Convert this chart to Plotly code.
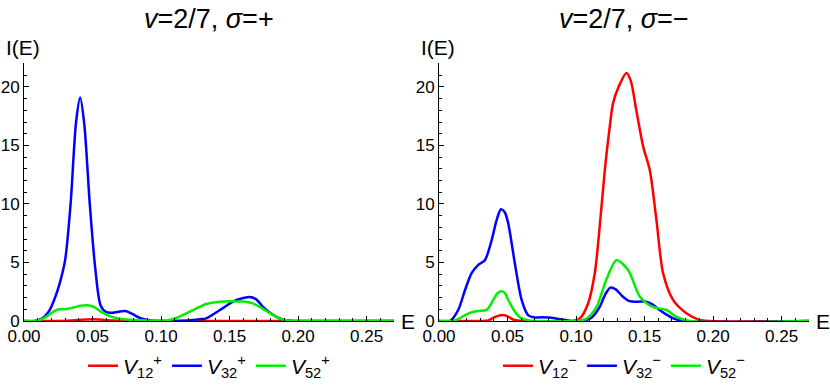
import plotly.graph_objects as go

# ---------------- data ----------------
# Left panel: nu = 2/7, sigma = +
E_red_p = [0, 0.025, 0.035, 0.045, 0.05, 0.055, 0.065, 0.075, 0.27]
I_red_p = [0, 0, 0.05, 0.12, 0.15, 0.12, 0.04, 0, 0]

E_blue_p = [0, 0.008, 0.013, 0.018, 0.022, 0.026, 0.030, 0.034, 0.038, 0.041, 0.044,
            0.048, 0.052, 0.056, 0.060, 0.064, 0.069, 0.074, 0.079, 0.085, 0.092, 0.10,
            0.11, 0.12, 0.128, 0.133, 0.143, 0.1525, 0.158, 0.1647, 0.1695, 0.1744, 0.179,
            0.184, 0.19, 0.195, 0.2, 0.27]
I_blue_p = [0, 0, 0.2, 0.8, 1.8, 3.2, 5.2, 10.0, 17.0, 19.1, 16.8,
            10.0, 4.5, 1.3, 0.75, 0.7, 0.8, 0.85, 0.6, 0.25, 0.05, 0,
            0, 0.05, 0.15, 0.23, 0.94, 1.65, 1.9, 2.05, 1.85, 1.2, 0.75,
            0.37, 0.08, 0.01, 0, 0]

E_green_p = [0, 0.008, 0.013, 0.018, 0.022, 0.026, 0.031, 0.036, 0.041, 0.046, 0.051,
             0.056, 0.063, 0.070, 0.078, 0.088, 0.098, 0.105, 0.112, 0.121, 0.128, 0.133,
             0.143, 0.150, 0.157, 0.162, 0.167, 0.172, 0.177, 0.182, 0.187, 0.192, 0.197, 0.27]
I_green_p = [0, 0, 0.15, 0.5, 0.85, 1.0, 1.02, 1.15, 1.3, 1.35, 1.2,
             0.8, 0.4, 0.2, 0.1, 0.05, 0.02, 0.05, 0.3, 0.8, 1.2, 1.45,
             1.65, 1.68, 1.66, 1.65, 1.5, 1.2, 0.85, 0.5, 0.2, 0.04, 0, 0]

# Right panel: nu = 2/7, sigma = -
E_red_m = [0, 0.03, 0.036, 0.041, 0.046, 0.050, 0.055, 0.062, 0.098, 0.103, 0.1088,
           0.1137, 0.1173, 0.121, 0.1246, 0.127, 0.131, 0.1368, 0.14, 0.144, 0.149,
           0.1538, 0.1587, 0.1635, 0.1708, 0.1805, 0.190, 0.197, 0.27]
I_red_m = [0, 0, 0.05, 0.35, 0.52, 0.4, 0.08, 0, 0, 0.25, 1.5,
           4.1, 8.1, 12.9, 16.6, 18.6, 20.0, 21.2, 20.5, 18.0, 14.9,
           12.9, 8.6, 4.1, 1.8, 0.66, 0.1, 0, 0]

E_blue_m = [0, 0.008, 0.014, 0.019, 0.0238, 0.0287, 0.0335, 0.0384, 0.042, 0.0452,
            0.048, 0.0505, 0.0554, 0.0603, 0.065, 0.07, 0.075, 0.08, 0.086, 0.094, 0.1,
            0.106, 0.111, 0.1173, 0.121, 0.125, 0.129, 0.134, 0.139, 0.145, 0.151, 0.156,
            0.161, 0.166, 0.171, 0.178, 0.27]
I_blue_m = [0, 0, 0.94, 2.65, 4.1, 4.8, 5.2, 6.9, 8.6, 9.55,
            9.3, 8.35, 4.9, 1.8, 0.5, 0.3, 0.32, 0.3, 0.2, 0.05, 0,
            0.05, 0.25, 1.2, 2.2, 2.85, 2.7, 2.1, 1.7, 1.65, 1.65, 1.4,
            0.94, 0.55, 0.23, 0, 0]

E_green_m = [0, 0.01, 0.014, 0.019, 0.024, 0.0287, 0.0348, 0.0396, 0.0425, 0.0452,
             0.048, 0.0505, 0.0554, 0.060, 0.066, 0.075, 0.1, 0.1076, 0.115, 0.122,
             0.1295, 0.138, 0.1465, 0.156, 0.166, 0.173, 0.183, 0.27]
I_green_m = [0, 0, 0.15, 0.5, 0.75, 0.85, 0.95, 1.8, 2.35, 2.55,
             2.4, 1.8, 0.8, 0.25, 0.05, 0, 0, 0.2, 1.2, 3.5,
             5.2, 4.36, 2.1, 1.2, 0.94, 0.37, 0, 0]

titles = ["<i>v</i>=2/7, <i>σ</i>=+", "<i>v</i>=2/7, <i>σ</i>=−"]
names_p = ["<i>V</i><sub>12</sub><sup>+</sup>", "<i>V</i><sub>32</sub><sup>+</sup>",
           "<i>V</i><sub>52</sub><sup>+</sup>"]
names_m = ["<i>V</i><sub>12</sub><sup>−</sup>", "<i>V</i><sub>32</sub><sup>−</sup>",
           "<i>V</i><sub>52</sub><sup>−</sup>"]
x_ticks = [0.00, 0.05, 0.10, 0.15, 0.20, 0.25]
x_ticklabels = ["0.00", "0.05", "0.10", "0.15", "0.20", "0.25"]
y_ticks = [0, 5, 10, 15, 20]

colors = ["#ff0000", "#0000ff", "#00ee00"]
FONT = "Liberation Sans, Arial, sans-serif"

fig = go.Figure()

left = [(E_red_p, I_red_p), (E_blue_p, I_blue_p), (E_green_p, I_green_p)]
right = [(E_red_m, I_red_m), (E_blue_m, I_blue_m), (E_green_m, I_green_m)]

for (ex, iy), c, n in zip(left, colors, names_p):
    fig.add_trace(go.Scatter(x=ex, y=iy, mode="lines", name=n, xaxis="x", yaxis="y",
                             line=dict(color=c, width=2.5, shape="spline", smoothing=0.8),
                             legend="legend"))
for (ex, iy), c, n in zip(right, colors, names_m):
    fig.add_trace(go.Scatter(x=ex, y=iy, mode="lines", name=n, xaxis="x2", yaxis="y2",
                             line=dict(color=c, width=2.5, shape="spline", smoothing=0.8),
                             legend="legend2"))

W, H = 830, 385
ml, mr, mt, mb = 24, 21, 63, 64
pw = W - ml - mr
d1 = [0, (394 - ml) / pw]
d2 = [(439 - ml) / pw, 1]

ax_common = dict(showline=True, linecolor="black", linewidth=1, showgrid=False,
                 zeroline=False, ticks="inside", tickcolor="black", automargin=False,
                 tickfont=dict(family=FONT, size=17, color="black"), fixedrange=True)
xax = dict(ax_common, range=[0, 0.27], tickvals=x_ticks, ticktext=x_ticklabels, ticklen=5,
           minor=dict(dtick=0.01, ticks="inside", ticklen=3, tickcolor="black"))
yax = dict(ax_common, range=[0, 22.05], tickvals=y_ticks, ticklen=5,
           minor=dict(dtick=1, ticks="inside", ticklen=3, tickcolor="black"))

legend_common = dict(orientation="h", xanchor="center", yanchor="middle", y=-0.175,
                     font=dict(family=FONT, size=21, color="black"),
                     bgcolor="rgba(0,0,0,0)", itemwidth=30, tracegroupgap=0)

fig.update_layout(
    width=W, height=H,
    margin=dict(l=ml, r=mr, t=mt, b=mb, autoexpand=False),
    paper_bgcolor="white", plot_bgcolor="white",
    xaxis=dict(xax, domain=d1, anchor="y"),
    yaxis=dict(yax, domain=[0, 1], anchor="x"),
    xaxis2=dict(xax, domain=d2, anchor="y2"),
    yaxis2=dict(yax, domain=[0, 1], anchor="x2"),
    legend=dict(legend_common, x=(d1[0] + d1[1]) / 2),
    legend2=dict(legend_common, x=(d2[0] + d2[1]) / 2),
    showlegend=True,
)

for k, (d, t) in enumerate(zip([d1, d2], titles)):
    xs = "" if k == 0 else "2"
    fig.add_annotation(text=t, x=0.5, y=1, xref=f"x{xs} domain", yref="paper",
                       yshift=44, showarrow=False, yanchor="middle",
                       font=dict(family=FONT, size=27, color="black"))
    fig.add_annotation(text="I(E)", x=0, y=1, xref=f"x{xs} domain", yref="paper",
                       xshift=-20, yshift=16, showarrow=False, xanchor="left", yanchor="middle",
                       font=dict(family=FONT, size=21, color="black"))
    fig.add_annotation(text="E", x=1, y=0, xref=f"x{xs} domain", yref="paper",
                       xshift=5, showarrow=False, xanchor="left", yanchor="middle",
                       font=dict(family=FONT, size=21, color="black"))

fig.write_html("out.html", config={"displayModeBar": False},
               post_script="document.body.style.margin='0';document.body.style.overflow='hidden';")
